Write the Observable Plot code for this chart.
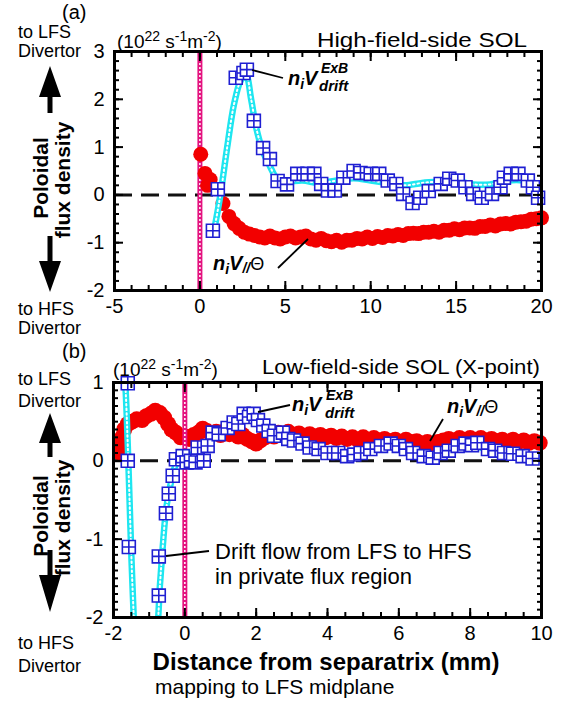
<!DOCTYPE html>
<html><head><meta charset="utf-8">
<script src="https://cdn.jsdelivr.net/npm/d3@7"></script>
<script src="https://cdn.jsdelivr.net/npm/@observablehq/plot@0.6"></script>
<style>
body{margin:0;background:#fff;}
#wrap{position:relative;width:571px;height:702px;font-family:"Liberation Sans",Arial,sans-serif;overflow:hidden;}
#wrap svg{position:absolute;left:0;}
</style></head><body><div id="wrap"></div>
<script>
// ---------- Panel (a): High-field-side SOL ----------
const aRedX = [0.05,0.3,0.45,0.6,1.35,1.7,2.0,2.3,2.6,2.9,3.2,3.5,3.8,4.1,4.4,4.7,5.0,5.3,5.6,5.9,6.2,6.5,6.8,7.1,7.4,7.7,8.0,8.3,8.6,8.9,9.2,9.5,9.8,10.1,10.4,10.7,11.0,11.3,11.6,11.9,12.2,12.5,12.8,13.1,13.4,13.7,14.0,14.3,14.6,14.9,15.2,15.5,15.8,16.1,16.4,16.7,17.0,17.3,17.6,17.9,18.2,18.5,18.8,19.1,19.4,19.7,20.0];
const aRedY = [0.85,0.45,0.2,0.32,-0.18,-0.45,-0.6,-0.7,-0.78,-0.82,-0.85,-0.88,-0.9,-0.86,-0.9,-0.92,-0.88,-0.86,-0.9,-0.88,-0.86,-0.92,-0.95,-0.91,-0.96,-0.98,-0.95,-0.99,-0.95,-0.95,-0.91,-0.92,-0.88,-0.91,-0.87,-0.89,-0.85,-0.86,-0.83,-0.85,-0.81,-0.8,-0.81,-0.78,-0.78,-0.76,-0.78,-0.74,-0.74,-0.71,-0.73,-0.69,-0.69,-0.7,-0.66,-0.66,-0.63,-0.65,-0.61,-0.6,-0.61,-0.57,-0.56,-0.55,-0.51,-0.5,-0.48];
const aBlueX = [0.76,1.05,2.1,2.55,2.75,3.16,3.7,4.1,4.55,5.1,5.7,6.3,6.7,7.1,7.5,7.9,8.4,9.0,9.4,10.0,10.5,11.0,11.5,11.9,12.45,12.9,13.4,14.1,14.6,15.1,15.55,16.0,16.5,17.1,17.6,17.8,18.2,18.65,19.2,19.5,19.8];
const aBlueY = [-0.75,0.12,2.45,2.55,2.62,1.55,0.98,0.75,0.29,0.22,0.44,0.44,0.44,0.23,0.09,0.09,0.36,0.5,0.46,0.44,0.44,0.3,0.23,0.02,-0.17,-0.06,0.08,0.23,0.34,0.3,0.16,0.02,-0.06,0.02,0.16,0.36,0.44,0.44,0.3,0.16,-0.06];
const aCyanX = [0.8,1.2,1.6,2.0,2.4,2.7,3.0,3.3,3.7,4.1,4.5,5.0,6.0,7.0,8.0,9.0,10.0,11.0,12.0,13.0,14.0,15.0,16.0,17.0,18.0,19.0,20.0];
const aCyanY = [-0.8,0.0,1.0,1.9,2.4,2.5,2.0,1.4,0.9,0.6,0.35,0.28,0.3,0.25,0.3,0.35,0.3,0.25,0.2,0.25,0.28,0.3,0.22,0.22,0.3,0.3,0.2];
const aXMajor = [-5,0,5,10,15,20];
const aXMinor = d3.range(-5,20.01,1);
const aYMajor = [-2,-1,0,1,2,3];
const aYMinor = d3.range(-2,3.001,0.2);

// ---------- Panel (b): Low-field-side SOL (X-point) ----------
const bRedX = [-1.8,-1.79,-1.76,-1.7,-1.6,-1.48,-1.35,-1.2,-1.08,-0.95,-0.83,-0.7,-0.58,-0.47,-0.37,-0.25,-0.12,0.0,0.12,0.25,0.38,0.5,0.62,0.75,0.88,1.0,1.12,1.25,1.38,1.5,1.62,1.75,1.88,2.0,2.12,2.25,2.38,2.5,2.62,2.75,2.9,3.05,3.2,3.35,3.5,3.65,3.8,3.95,4.1,4.25,4.4,4.55,4.7,4.85,5.0,5.15,5.3,5.45,5.6,5.75,5.9,6.05,6.2,6.35,6.5,6.65,6.8,6.95,7.1,7.25,7.4,7.55,7.7,7.85,8.0,8.15,8.3,8.45,8.6,8.75,8.9,9.05,9.2,9.35,9.5,9.65,9.8,9.95];
const bRedY = [0.1,0.2,0.3,0.4,0.47,0.5,0.53,0.52,0.57,0.6,0.64,0.61,0.55,0.47,0.4,0.36,0.3,0.31,0.28,0.33,0.36,0.41,0.38,0.34,0.37,0.33,0.38,0.34,0.36,0.31,0.33,0.28,0.25,0.22,0.26,0.3,0.33,0.31,0.36,0.34,0.37,0.33,0.35,0.31,0.34,0.31,0.33,0.3,0.32,0.29,0.31,0.28,0.3,0.27,0.3,0.27,0.29,0.26,0.28,0.25,0.27,0.24,0.27,0.24,0.25,0.22,0.24,0.21,0.24,0.26,0.28,0.26,0.29,0.27,0.29,0.27,0.29,0.26,0.28,0.25,0.27,0.24,0.27,0.24,0.26,0.23,0.25,0.23];
const bBlueX = [-1.6,-1.6,-1.57,-0.73,-0.73,-0.53,-0.45,-0.34,-0.25,-0.06,0.05,0.17,0.3,0.36,0.53,0.64,0.78,0.95,1.2,1.37,1.5,1.65,1.8,1.93,2.05,2.2,2.35,2.5,2.75,2.9,3.06,3.3,3.5,3.75,4.0,4.3,4.55,4.75,4.93,5.2,5.5,5.77,6.0,6.2,6.4,6.7,6.95,7.17,7.4,7.65,7.87,8.05,8.2,8.5,8.7,8.95,9.2,9.47,9.75];
const bBlueY = [0.99,0.0,-1.1,-1.72,-1.22,-0.67,-0.42,-0.19,0.02,0.06,-0.02,0.0,-0.02,0.17,0.0,0.19,0.36,0.34,0.42,0.49,0.47,0.6,0.56,0.6,0.52,0.45,0.38,0.32,0.36,0.28,0.26,0.22,0.17,0.15,0.1,0.1,0.06,0.08,0.1,0.15,0.19,0.22,0.19,0.15,0.1,0.06,0.04,0.1,0.13,0.19,0.22,0.2,0.23,0.15,0.13,0.1,0.09,0.06,0.03];
const bCyanX = [-1.7,-1.64,-1.6,-1.55,-1.5,-1.45,-1.4,-1.2,-0.9,-0.76,-0.7,-0.62,-0.52,-0.4,-0.25,0.0,0.3,0.6,0.9,1.2,1.5,1.8,2.1,2.4,2.7,3.0,3.5,4.0,4.5,5.0,5.5,6.0,6.5,7.0,7.5,8.0,8.5,9.0,9.5,10.0];
const bCyanY = [1.3,0.7,0.2,-0.5,-1.2,-1.8,-2.2,-2.8,-2.8,-2.1,-1.6,-1.1,-0.6,-0.3,-0.05,0.05,0.1,0.2,0.32,0.4,0.48,0.55,0.5,0.38,0.32,0.25,0.18,0.12,0.08,0.12,0.18,0.17,0.1,0.06,0.14,0.2,0.14,0.1,0.06,0.03];
const bXMajor = [-2,0,2,4,6,8,10];
const bXMinor = d3.range(-2,10.01,0.5);
const bYMajor = [-2,-1,0,1];
const bYMinor = d3.range(-2,1.001,0.1);

const zip = (xs, ys) => xs.map((x, i) => ({x, y: ys[i]}));

const squarePlus = {
  draw(ctx, size) {
    const h = Math.sqrt(size) / 2;
    ctx.moveTo(-h, -h); ctx.lineTo(h, -h); ctx.lineTo(h, h); ctx.lineTo(-h, h); ctx.closePath();
    ctx.moveTo(0, -h); ctx.lineTo(0, h);
    ctx.moveTo(-h, 0); ctx.lineTo(h, 0);
  }
};

const RED = "#f20000", BLUE = "#1f1fd2", CYAN = "#1ee6f0", MAGENTA = "#e4127f";

// inward ticks: draw outward ticks and shift them inside the frame by their own length
function inTicks(xs, ys, len) {
  const t = {stroke: "black", strokeWidth: 2, tickFormat: () => "", label: null, tickSize: len};
  return [
    Plot.axisX(xs, {...t, anchor: "bottom", dy: -len}),
    Plot.axisX(xs, {...t, anchor: "top", dy: len}),
    Plot.axisY(ys, {...t, anchor: "left", dx: len}),
    Plot.axisY(ys, {...t, anchor: "right", dx: -len})
  ];
}

function axes(xMajor, xMinor, yMajor, yMinor) {
  return [
    ...inTicks(xMinor, yMinor, 5),
    ...inTicks(xMajor, yMajor, 9),
    Plot.axisX(xMajor, {anchor: "bottom", tickSize: 0, tickPadding: 8, fontSize: 20, tickFormat: d => String(d), label: null}),
    Plot.axisY(yMajor, {anchor: "left", tickSize: 0, tickPadding: 10, fontSize: 20, tickFormat: d => String(d), label: null}),
    Plot.frame({stroke: "black", strokeWidth: 3})
  ];
}

function cyanLine(data) {
  return [
    Plot.line(data, {x: "x", y: "y", stroke: CYAN, strokeWidth: 6.5, curve: "catmull-rom", clip: true}),
    Plot.line(data, {x: "x", y: "y", stroke: "white", strokeWidth: 2, strokeDasharray: "1.5,3", curve: "catmull-rom", clip: true})
  ];
}

const style = {fontFamily: "'Liberation Sans', Arial, sans-serif", fontSize: "20px", background: "transparent", color: "black", overflow: "visible"};

const plotA = Plot.plot({
  width: 571, height: 340,
  marginLeft: 114, marginRight: 30, marginTop: 51, marginBottom: 50,
  style,
  x: {domain: [-5, 20], label: null},
  y: {domain: [-2, 3], label: null},
  marks: [
    Plot.ruleY([0], {stroke: "#111", strokeWidth: 3, strokeDasharray: "18,9"}),
    Plot.ruleX([0], {stroke: MAGENTA, strokeWidth: 5}),
    Plot.ruleX([0], {stroke: "white", strokeWidth: 1.5, strokeDasharray: "2,2"}),
    Plot.dot(zip(aRedX, aRedY), {x: "x", y: "y", r: 7.5, fill: RED, stroke: "none"}),
    ...cyanLine(zip(aCyanX, aCyanY)),
    Plot.dot(zip(aBlueX, aBlueY), {x: "x", y: "y", r: 7.3, symbol: squarePlus, fill: "white", stroke: BLUE, strokeWidth: 1.6}),
    ...axes(aXMajor, aXMinor, aYMajor, aYMinor)
  ]
});

const plotB = Plot.plot({
  width: 571, height: 322,
  marginLeft: 113, marginRight: 30, marginTop: 42, marginBottom: 45,
  style,
  x: {domain: [-2, 10], label: null},
  y: {domain: [-2, 1], label: null},
  marks: [
    Plot.ruleY([0], {stroke: "#111", strokeWidth: 3, strokeDasharray: "18,9"}),
    Plot.dot(zip(bRedX, bRedY), {x: "x", y: "y", r: 8, fill: RED, stroke: "none"}),
    Plot.ruleX([0], {stroke: MAGENTA, strokeWidth: 5}),
    Plot.ruleX([0], {stroke: "white", strokeWidth: 1.5, strokeDasharray: "2,2"}),
    ...cyanLine(zip(bCyanX, bCyanY)),
    Plot.dot(zip(bBlueX, bBlueY), {x: "x", y: "y", r: 7.3, symbol: squarePlus, fill: "white", stroke: BLUE, strokeWidth: 1.6}),
    ...axes(bXMajor, bXMinor, bYMajor, bYMinor)
  ]
});

const wrap = document.getElementById("wrap");
plotA.style.top = "0px";
plotB.style.top = "340px";
wrap.appendChild(plotA);
wrap.appendChild(plotB);

// ---------- Decorations (titles, arrows, annotations) ----------
const NS = "http://www.w3.org/2000/svg";
const ov = document.createElementNS(NS, "svg");
ov.setAttribute("width", 571); ov.setAttribute("height", 702);
ov.style.top = "0px"; ov.style.pointerEvents = "none";
ov.setAttribute("font-family", "'Liberation Sans', Arial, sans-serif");
ov.innerHTML = `
<g fill="black">
  <text x="62" y="19" font-size="20">(a)</text>
  <text x="18" y="38" font-size="18">to LFS</text>
  <text x="18" y="57" font-size="18">Divertor</text>
  <path d="M50,66 L61,97 L52.5,97 L52.5,113 L47.5,113 L47.5,97 L39,97 Z"/>
  <text transform="translate(48,178) rotate(-90)" text-anchor="middle" font-size="21" font-weight="bold">Poloidal</text>
  <text transform="translate(70,180) rotate(-90)" text-anchor="middle" font-size="21" font-weight="bold">flux density</text>
  <path d="M50,292 L61,261 L52.5,261 L52.5,236 L47.5,236 L47.5,261 L39,261 Z"/>
  <text x="18" y="315" font-size="18">to HFS</text>
  <text x="18" y="334" font-size="18">Divertor</text>
  <text x="117" y="48" font-size="19">(10<tspan font-size="14" dy="-7">22</tspan><tspan dy="7"> s</tspan><tspan font-size="14" dy="-7">-1</tspan><tspan dy="7">m</tspan><tspan font-size="14" dy="-7">-2</tspan><tspan dy="7">)</tspan></text>
  <text x="317" y="47" font-size="21" textLength="210" lengthAdjust="spacingAndGlyphs">High-field-side SOL</text>

  <text x="62" y="358" font-size="20">(b)</text>
  <text x="18" y="385" font-size="18">to LFS</text>
  <text x="18" y="407" font-size="18">Divertor</text>
  <path d="M50,413 L61,443 L52.5,443 L52.5,457 L47.5,457 L47.5,443 L39,443 Z"/>
  <text transform="translate(48,516) rotate(-90)" text-anchor="middle" font-size="21" font-weight="bold">Poloidal</text>
  <text transform="translate(70,518) rotate(-90)" text-anchor="middle" font-size="21" font-weight="bold">flux density</text>
  <path d="M50,612 L61,575 L52.5,575 L52.5,550 L47.5,550 L47.5,575 L39,575 Z"/>
  <text x="18" y="649" font-size="18">to HFS</text>
  <text x="18" y="672" font-size="18">Divertor</text>
  <text x="113" y="376" font-size="19">(10<tspan font-size="14" dy="-7">22</tspan><tspan dy="7"> s</tspan><tspan font-size="14" dy="-7">-1</tspan><tspan dy="7">m</tspan><tspan font-size="14" dy="-7">-2</tspan><tspan dy="7">)</tspan></text>
  <text x="262" y="374" font-size="21" textLength="278" lengthAdjust="spacingAndGlyphs">Low-field-side SOL (X-point)</text>

  <text x="326" y="670" text-anchor="middle" font-size="24" font-weight="bold">Distance from separatrix (mm)</text>
  <text x="155" y="694" font-size="21">mapping to LFS midplane</text>

  <!-- math labels panel a -->
  <line x1="252" y1="70" x2="283" y2="78" stroke="black" stroke-width="1.8"/>
  <text x="288" y="85" font-size="20" font-weight="bold" font-style="italic">n<tspan font-size="14" dy="4">i</tspan><tspan dy="-4">V</tspan></text>
  <text x="321" y="73" font-size="14" font-weight="bold" font-style="italic">ExB</text>
  <text x="319" y="91" font-size="15" font-weight="bold" font-style="italic">drift</text>
  <line x1="278" y1="268" x2="308" y2="239" stroke="black" stroke-width="1.8"/>
  <text x="213" y="270" font-size="20" font-weight="bold" font-style="italic">n<tspan font-size="14" dy="4">i</tspan><tspan dy="-4">V</tspan><tspan font-size="14" dy="3">//</tspan><tspan dy="-3" font-weight="normal" font-style="normal" font-size="18">Θ</tspan></text>

  <!-- math labels panel b -->
  <line x1="258" y1="412" x2="290" y2="405" stroke="black" stroke-width="1.8"/>
  <text x="292" y="411" font-size="20" font-weight="bold" font-style="italic">n<tspan font-size="14" dy="4">i</tspan><tspan dy="-4">V</tspan></text>
  <text x="326" y="400" font-size="14" font-weight="bold" font-style="italic">ExB</text>
  <text x="325" y="418" font-size="15" font-weight="bold" font-style="italic">drift</text>
  <line x1="430" y1="441" x2="443" y2="419" stroke="black" stroke-width="1.8"/>
  <text x="447" y="413" font-size="20" font-weight="bold" font-style="italic">n<tspan font-size="14" dy="4">i</tspan><tspan dy="-4">V</tspan><tspan font-size="14" dy="3">//</tspan><tspan dy="-3" font-weight="normal" font-style="normal" font-size="18">Θ</tspan></text>

  <line x1="166" y1="556" x2="209" y2="551" stroke="black" stroke-width="1.8"/>
  <text x="215" y="559" font-size="22">Drift flow from LFS to HFS</text>
  <text x="215" y="584" font-size="22">in private flux region</text>
</g>`;
wrap.appendChild(ov);
</script></body></html>
